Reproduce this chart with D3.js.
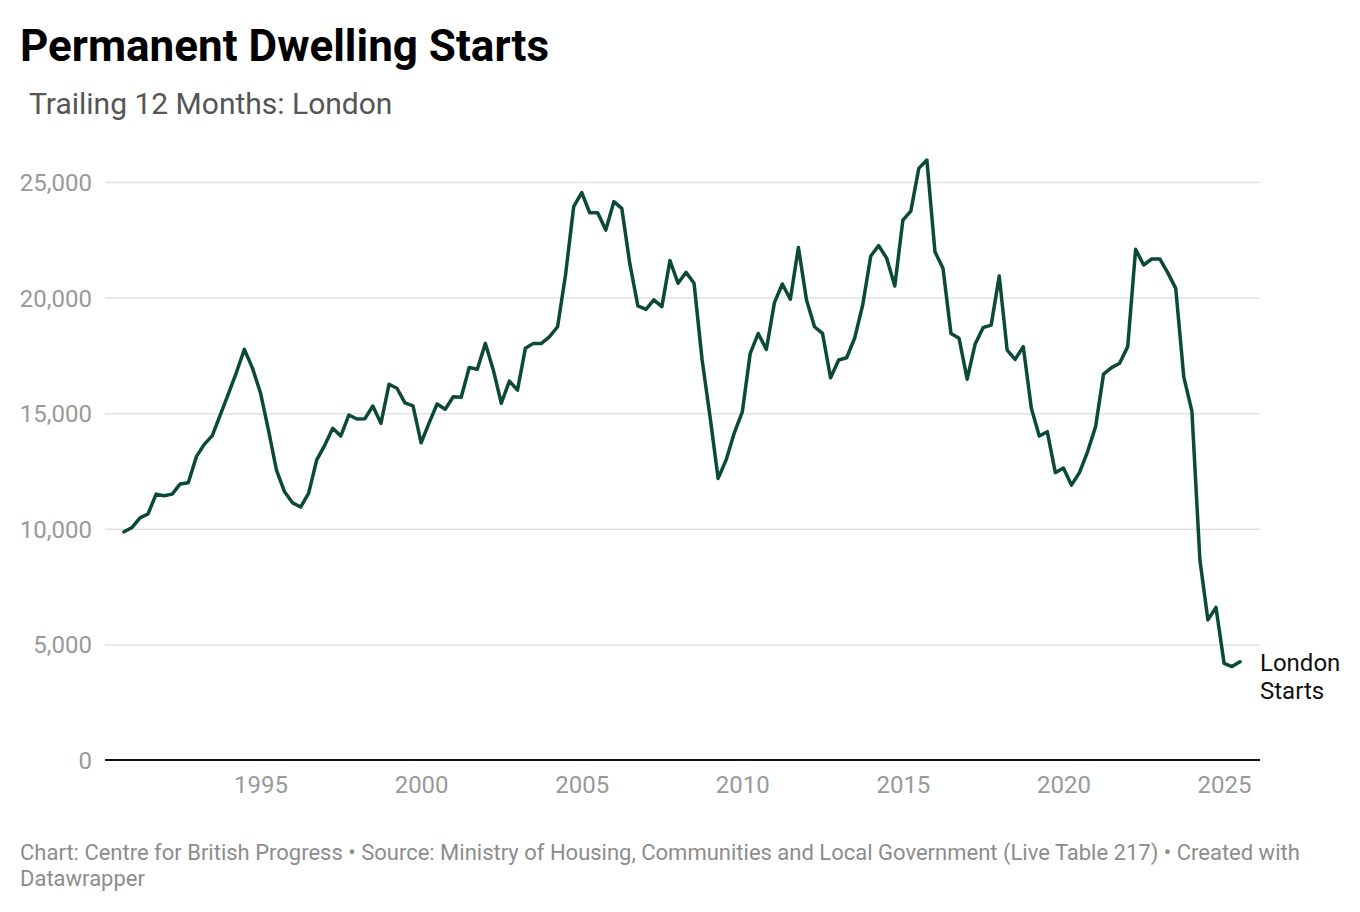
<!DOCTYPE html>
<html>
<head>
<meta charset="utf-8">
<script src="https://cdn.jsdelivr.net/npm/d3@7"></script>
<style>
  body { margin: 0; background: #fff; font-family: Roboto, "Noto Sans", sans-serif; }
  .title { font-weight: 700; font-size: 44px; fill: #000; }
  .subtitle { font-size: 30px; fill: #555; }
  .tick text { font-size: 24px; fill: #999; font-family: Roboto, sans-serif; }
  .grid line { stroke: #e2e2e2; stroke-width: 1.5; }
  .foot { font-size: 22px; fill: #8c8c8c; }
  .lbl { font-size: 24px; fill: #111; }
</style>
</head>
<body>
<svg id="chart" width="1360" height="912"></svg>
<script>
// quarterly series, trailing 12 months, first quarter ends Q4 1990
const START_QUARTER = '1990-10-01';
const londonStarts = [
  9870, 10060, 10470, 10640, 11500, 11430, 11500, 11940, 11990, 13120,
  13650, 14030, 14940, 15850, 16760, 17760, 16950, 15870, 14270, 12540,
  11600, 11120, 10940, 11540, 12980, 13620, 14350, 14010, 14920, 14750,
  14760, 15310, 14560, 16250, 16080, 15450, 15320, 13720, 14580, 15400,
  15170, 15710, 15690, 16980, 16900, 18020, 16870, 15430, 16390, 16000,
  17810, 18020, 18020, 18310, 18740, 21000, 23930, 24540, 23670, 23670,
  22920, 24150, 23860, 21480, 19640, 19490, 19900, 19610, 21600, 20620,
  21090, 20620, 17300, 14790, 12180, 12980, 14140, 15060, 17590, 18450,
  17760, 19780, 20590, 19930, 22170, 19900, 18740, 18450, 16530, 17300,
  17400, 18240, 19680, 21800, 22250, 21700, 20500, 23350, 23740, 25590,
  25950, 21980, 21270, 18450, 18240, 16470, 17980, 18700, 18810, 20930,
  17730, 17330, 17880, 15210, 14010, 14200, 12430, 12630, 11890, 12430,
  13330, 14420, 16690, 16970, 17160, 17880, 22090, 21410, 21670, 21670,
  21080, 20400, 16560, 15090, 8650, 6060, 6600, 4180, 4040, 4250
];
const yTicks = [0, 5000, 10000, 15000, 20000, 25000];
const xTickYears = [1995, 2000, 2005, 2010, 2015, 2020, 2025];
const seriesLabel = ['London', 'Starts'];

const start = new Date(START_QUARTER);
const data = londonStarts.map((v, i) => ({ date: d3.timeMonth.offset(start, i * 3), value: v }));

const svg = d3.select('#chart');
const plotLeft = 105, plotRight = 1260;

const x = d3.scaleTime()
  .domain(d3.extent(data, (d) => d.date))
  .range([124, 1240]);
const y = d3.scaleLinear().domain([0, 25000]).range([760, 182]);

svg.append('text').attr('class', 'title').attr('x', 20).attr('y', 61).text('Permanent Dwelling Starts');
svg.append('text').attr('class', 'subtitle').attr('x', 29).attr('y', 114).text('Trailing 12 Months: London');

// horizontal grid + y labels
const gy = svg.append('g').attr('class', 'grid')
  .attr('transform', `translate(${plotLeft},0)`)
  .call(d3.axisLeft(y).tickValues(yTicks).tickSize(-(plotRight - plotLeft)).tickPadding(13)
    .tickFormat(d3.format(',')));
gy.select('.domain').remove();
gy.selectAll('.tick text').attr('dy', '0.35em');
gy.selectAll('.tick').filter((d) => d === 0).select('line').remove();

const gx = svg.append('g')
  .attr('transform', 'translate(0,760)')
  .call(d3.axisBottom(x).tickValues(xTickYears.map((yr) => new Date(yr, 0, 1)))
    .tickSize(0).tickPadding(16).tickFormat(d3.timeFormat('%Y')));
gx.select('.domain').remove();
gx.selectAll('.tick text').attr('dy', '0.71em');

svg.append('line').attr('x1', plotLeft).attr('x2', plotRight)
  .attr('y1', y(0)).attr('y2', y(0))
  .attr('stroke', '#111').attr('stroke-width', 2);

const line = d3.line().x((d) => x(d.date)).y((d) => y(d.value));
svg.append('path').datum(data)
  .attr('d', line)
  .attr('fill', 'none')
  .attr('stroke', '#0b4a38')
  .attr('stroke-width', 3.5)
  .attr('stroke-linejoin', 'round')
  .attr('stroke-linecap', 'round');

const last = data[data.length - 1];
svg.append('text').attr('class', 'lbl')
  .attr('x', 1260).attr('y', y(last.value) + 9)
  .selectAll('tspan').data(seriesLabel).join('tspan')
  .attr('x', 1260).attr('dy', (d, i) => (i === 0 ? 0 : 28))
  .text((d) => d);

const foot = svg.append('text').attr('class', 'foot').attr('x', 20).attr('y', 860);
foot.append('tspan').attr('x', 20)
  .text('Chart: Centre for British Progress \u2022 Source: Ministry of Housing, Communities and Local Government (Live Table 217) \u2022 Created with');
foot.append('tspan').attr('x', 20).attr('dy', 26).text('Datawrapper');
</script>
</body>
</html>
